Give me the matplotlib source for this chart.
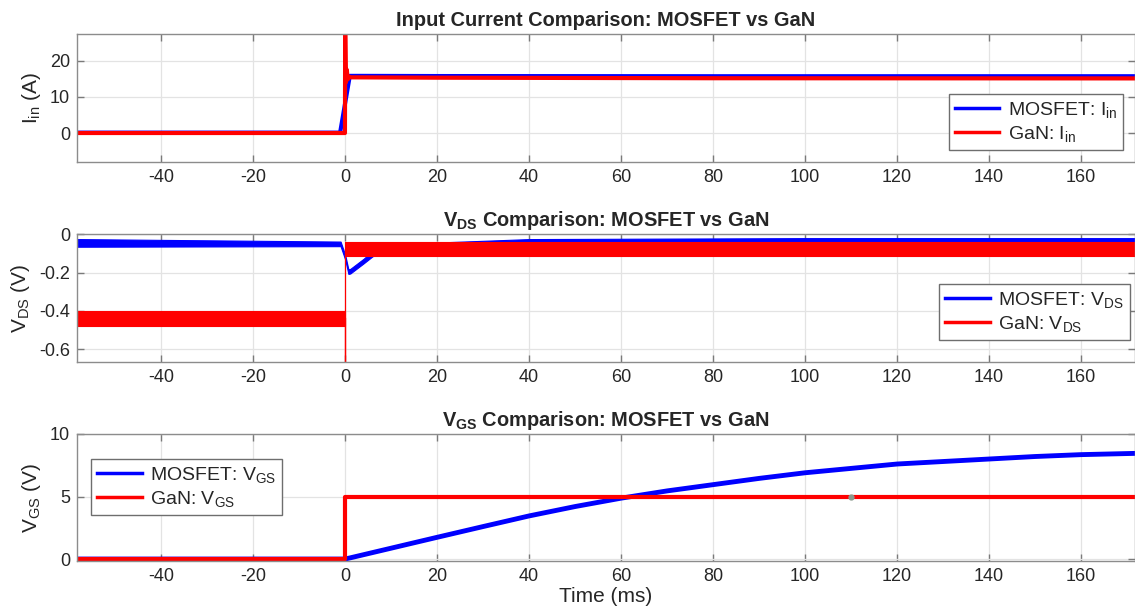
import matplotlib
matplotlib.use("Agg")
import matplotlib.pyplot as plt
import numpy as np

plt.rcParams['font.family'] = ['Liberation Sans', 'DejaVu Sans']
plt.rcParams['mathtext.fontset'] = 'custom'
plt.rcParams['mathtext.rm'] = 'Liberation Sans'
plt.rcParams['mathtext.it'] = 'Liberation Sans:italic'
plt.rcParams['mathtext.bf'] = 'Liberation Sans:bold'
plt.rcParams['mathtext.default'] = 'regular'
plt.rcParams['axes.unicode_minus'] = False

BLUE = (0, 0, 1)
RED = (1, 0, 0)
TXT = '#262626'

# ---------------- data (time in ms) ----------------
xlim = (-58.3, 171.7)
xticks = [-40, -20, 0, 20, 40, 60, 80, 100, 120, 140, 160]
xticklabels = ['-40', '-20', '0', '20', '40', '60', '80', '100', '120', '140', '160']

# Input current
iin_ticks = [0, 10, 20]
iin_ticklabels = ['0', '10', '20']
t_iin_mos = [-58.3, -1.1, 1.0, 3.0, 20.0, 80.0, 171.7]
iin_mos = [0.1, 0.1, 15.8, 15.8, 15.75, 15.7, 15.7]
t_iin_gan = [-58.3, -0.05, 0.0, 0.15, 0.35, 0.55, 0.8, 1.2, 20.0, 80.0, 171.7]
iin_gan = [0.0, 0.0, 29.0, 14.0, 17.5, 14.8, 15.6, 15.4, 15.3, 15.15, 15.1]

# Drain-source voltage: trace centre and noise envelope half-width
vds_ticks = [-0.6, -0.4, -0.2, 0]
vds_ticklabels = ['-0.6', '-0.4', '-0.2', '0']
t_vds_mos = [-58.3, -1.0, 0.0, 0.7, 1.1, 4.0, 6.0, 10.0, 20.0, 40.0, 100.0, 171.7]
vds_mos = [-0.045, -0.05, -0.12, -0.195, -0.193, -0.14, -0.10, -0.08, -0.065, -0.05, -0.045, -0.045]
vds_mos_hw = [0.02, 0.012, 0.012, 0.012, 0.012, 0.012, 0.014, 0.018, 0.022, 0.025, 0.025, 0.025]

t_vds_gan_off = [-58.3, 0.0]
vds_gan_off_lo = [-0.48, -0.48]
vds_gan_off_hi = [-0.40, -0.40]
t_vds_gan_on = [0.0, 171.7]
vds_gan_on_lo = [-0.112, -0.112]
vds_gan_on_hi = [-0.038, -0.038]
vds_gan_edge = [-0.44, -0.80, -0.075]

# Gate-source voltage
vgs_ticks = [0, 5, 10]
vgs_ticklabels = ['0', '5', '10']
t_vgs_mos = [-58.3, 0, 10, 20, 30, 40, 50, 60, 70, 80, 90, 100, 110, 120, 130, 140, 150, 160, 171.7]
vgs_mos = [0.0, 0.0, 0.87, 1.74, 2.6, 3.45, 4.2, 4.87, 5.45, 5.95, 6.45, 6.9, 7.25, 7.6, 7.8,
           8.0, 8.2, 8.35, 8.45]
t_vgs_gan = [-58.3, 0.0, 0.0, 171.7]
vgs_gan = [0.0, 0.0, 5.0, 5.0]
marker_t, marker_v = 110.0, 5.0

# ---------------- figure ----------------
fig = plt.figure(figsize=(11.35, 6.12), dpi=100)
W, H = 1135, 612

def add_axes(top_px, bot_px):
    return fig.add_axes([77 / W, 1 - bot_px / H, 1 - 77 / W, (bot_px - top_px) / H])

ax1 = add_axes(34.3, 162.3)
ax2 = add_axes(234.3, 362.3)
ax3 = add_axes(434.0, 561.3)

def style(ax, yticks, yticklabels, ylim, ylabel, title):
    ax.set_xlim(*xlim)
    ax.set_ylim(*ylim)
    ax.set_xticks(xticks)
    ax.set_xticklabels(xticklabels)
    ax.set_yticks(yticks)
    ax.set_yticklabels(yticklabels)
    ax.grid(True, color='#e3e3e3', lw=0.9)
    ax.set_axisbelow(True)
    for s in ax.spines.values():
        s.set_color('#8c8c8c')
        s.set_linewidth(1.0)
    ax.tick_params(direction='in', top=True, right=True, length=5, width=1,
                   color='#7a7a7a', labelsize=13, labelcolor=TXT, pad=5)
    ax.set_ylabel(ylabel, fontsize=15, color=TXT, labelpad=5)
    ax.set_title(title, fontsize=14.4, fontweight='bold', color=TXT, pad=6)

def legend(ax, labels, loc, anchor):
    h = [plt.Line2D([], [], color=BLUE, lw=2.5), plt.Line2D([], [], color=RED, lw=2.5)]
    lg = ax.legend(h, labels, loc=loc, bbox_to_anchor=anchor, borderaxespad=0,
                   fontsize=14, fancybox=False, framealpha=1, edgecolor='#6e6e6e',
                   handlelength=2.3, handletextpad=0.45, labelspacing=0.2,
                   borderpad=0.3, labelcolor=TXT)
    lg.get_frame().set_linewidth(1.0)

# Input current
ax1.plot(t_iin_mos, iin_mos, color=BLUE, lw=3)
ax1.plot(t_iin_gan, iin_gan, color=RED, lw=3)
style(ax1, iin_ticks, iin_ticklabels, (-8.1, 27.3), r'I$_{in}$ (A)',
      'Input Current Comparison: MOSFET vs GaN')
legend(ax1, [r'MOSFET: I$_{in}$', r'GaN: I$_{in}$'], 'upper right', (0.989, 0.534))

# Drain-source voltage
m = np.array(vds_mos)
hw = np.array(vds_mos_hw)
ax2.fill_between(t_vds_mos, m - hw, m + hw, color=BLUE, lw=0.8, edgecolor=BLUE)
ax2.fill_between(t_vds_gan_off, vds_gan_off_lo, vds_gan_off_hi, color=RED, lw=0.8, edgecolor=RED)
ax2.fill_between(t_vds_gan_on, vds_gan_on_lo, vds_gan_on_hi, color=RED, lw=0.8, edgecolor=RED)
ax2.plot([0, 0, 0], vds_gan_edge, color=RED, lw=0.9)
style(ax2, vds_ticks, vds_ticklabels, (-0.669, 0.0), r'V$_{DS}$ (V)',
      r'$\mathbf{V_{DS}}$ Comparison: MOSFET vs GaN')
legend(ax2, [r'MOSFET: V$_{DS}$', r'GaN: V$_{DS}$'], 'upper right', (0.995, 0.612))

# Gate-source voltage
ax3.plot(t_vgs_mos, vgs_mos, color=BLUE, lw=3.5)
ax3.plot(t_vgs_gan, vgs_gan, color=RED, lw=3)
ax3.plot([marker_t], [marker_v], 'o', ms=3.5, color='#8a9a8e', mec='#8a9a8e')
style(ax3, vgs_ticks, vgs_ticklabels, (-0.18, 10), r'V$_{GS}$ (V)',
      r'$\mathbf{V_{GS}}$ Comparison: MOSFET vs GaN')
ax3.set_xlabel('Time (ms)', fontsize=15, color=TXT, labelpad=1)
legend(ax3, [r'MOSFET: V$_{GS}$', r'GaN: V$_{GS}$'], 'upper left', (0.0132, 0.804))

fig.savefig('out.png', dpi=100)
